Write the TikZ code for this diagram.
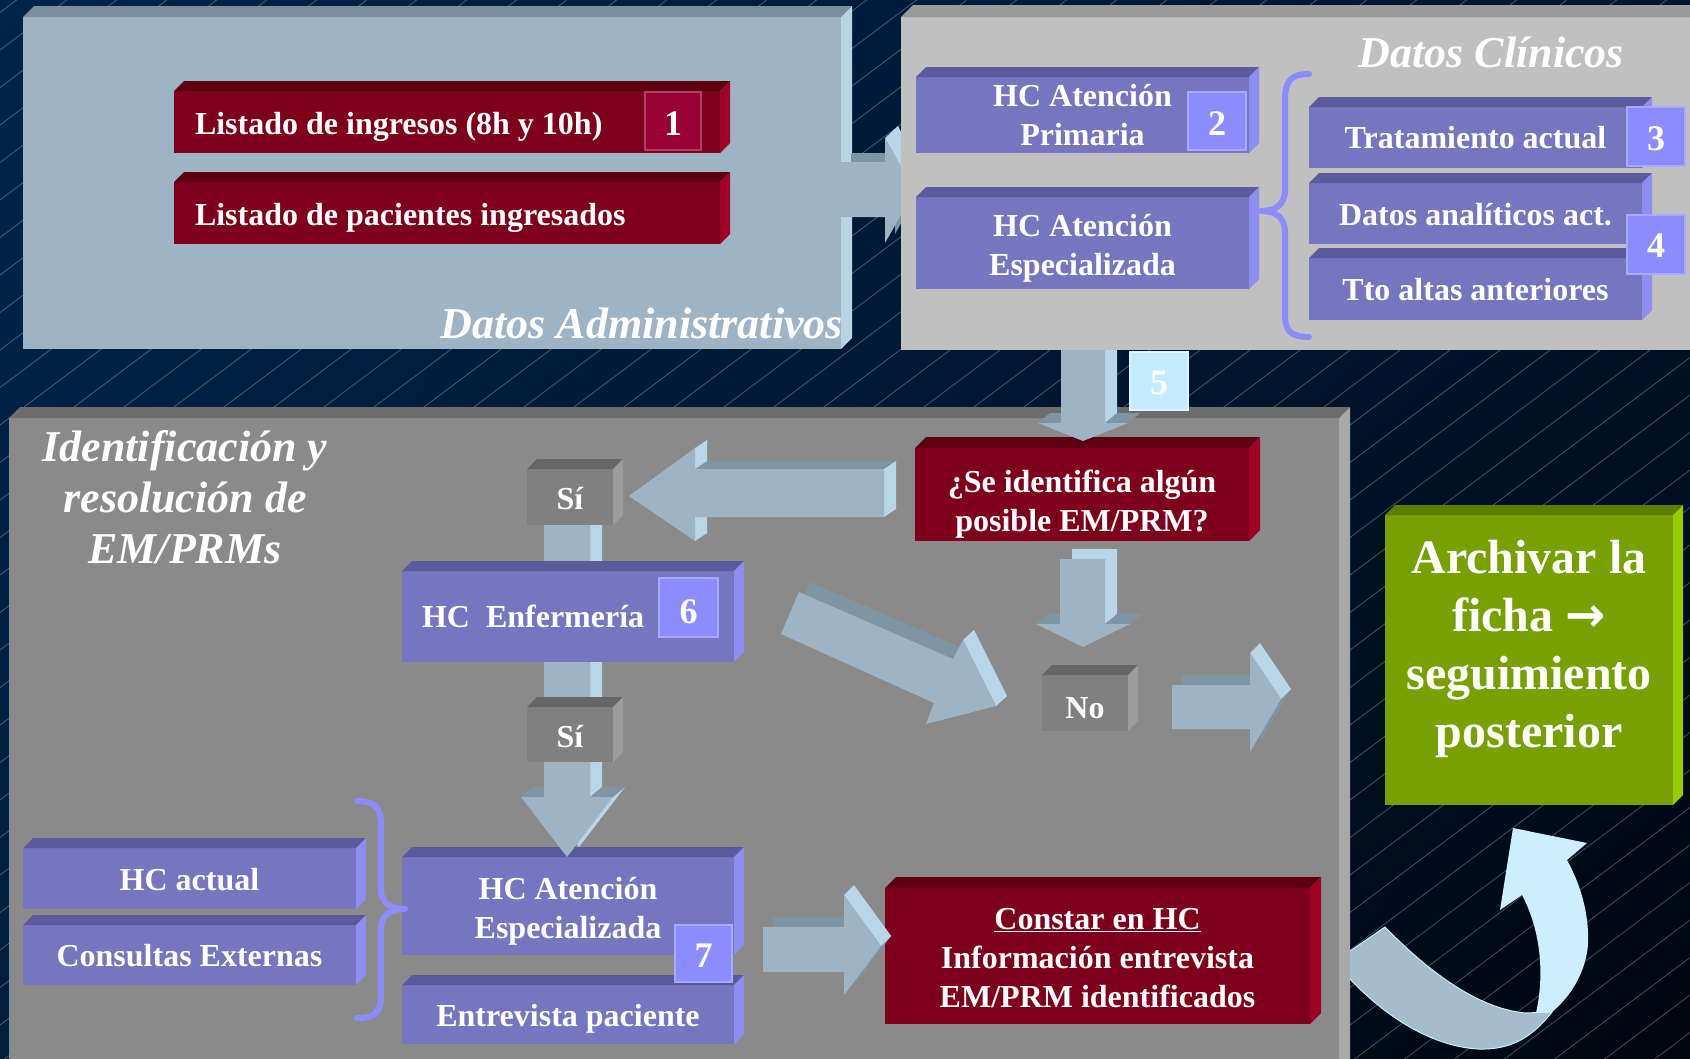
\documentclass[tikz,border=0pt]{standalone}
\usepackage{fontspec}
\setmainfont{Liberation Serif}
\newfontfamily\symfont{DejaVu Sans}
\usetikzlibrary{calc,shadings}
\definecolor{bgTL}{HTML}{00244A}
\definecolor{bgTR}{HTML}{001530}
\definecolor{bgBL}{HTML}{001F3D}
\definecolor{bgBR}{HTML}{00060F}
\definecolor{p1F}{HTML}{9EB4C5}
\definecolor{p1T}{HTML}{7B8E9C}
\definecolor{p1S}{HTML}{B8D3E3}
\definecolor{p2F}{HTML}{C0C0C0}
\definecolor{p2T}{HTML}{9A9A9A}
\definecolor{p2S}{HTML}{D6D6D6}
\definecolor{p3F}{HTML}{8A8A8A}
\definecolor{p3T}{HTML}{6D6D6D}
\definecolor{p3S}{HTML}{A8A8A8}
\definecolor{redF}{HTML}{7F001C}
\definecolor{redT}{HTML}{5C0012}
\definecolor{redS}{HTML}{9E0026}
\definecolor{numR}{HTML}{990033}
\definecolor{numRb}{HTML}{B0406A}
\definecolor{purF}{HTML}{7575C0}
\definecolor{purT}{HTML}{5A5A9C}
\definecolor{purS}{HTML}{8E8EF2}
\definecolor{numP}{HTML}{8C8CFF}
\definecolor{numPb}{HTML}{A9A9FF}
\definecolor{grayF}{HTML}{808080}
\definecolor{grayT}{HTML}{666666}
\definecolor{grayS}{HTML}{9C9C9C}
\definecolor{grnF}{HTML}{78A000}
\definecolor{grnT}{HTML}{5D7D00}
\definecolor{grnS}{HTML}{99CC00}
\definecolor{arrF}{HTML}{9EB4C5}
\definecolor{arrD}{HTML}{7E95A4}
\definecolor{arrL}{HTML}{B8D6E8}
\definecolor{n5F}{HTML}{C4EAFF}
\definecolor{n5b}{HTML}{E2F4FF}
\definecolor{braceC}{HTML}{8C8CFF}
\definecolor{curD}{HTML}{A4BCCB}
\definecolor{curL}{HTML}{CDEEFF}
\newcommand\boxfont{\fontsize{32}{39}\selectfont\bfseries}
\newcommand\numfont{\fontsize{36}{40}\selectfont\bfseries}
\newcommand\titlefont{\fontsize{44}{51}\selectfont\bfseries\itshape}
\newcommand\bigfont{\fontsize{48}{58}\selectfont\bfseries}
\newcommand\extrude[4]{%
  \fill[#3] (#1.north west) -- ++(#2,-#2) -- ($(#1.north east)+(#2,-#2)$) -- (#1.north east) -- cycle;
  \fill[#4] (#1.north east) -- ++(#2,-#2) -- ($(#1.south east)+(#2,-#2)$) -- (#1.south east) -- cycle;
}
\tikzset{
  face/.style={inner sep=0pt, outer sep=0pt, anchor=north west, text=white, align=center, font=\boxfont},
  redf/.style={face, fill=redF},
  purf/.style={face, fill=purF},
  grayf/.style={face, fill=grayF},
  th/.style={text height=#1, text depth=0pt},
  numbox/.style={inner sep=0pt, outer sep=0pt, anchor=north west, text=white, font=\numfont, line width=2pt},
  numred/.style={numbox, fill=numR, draw=numRb},
  numpur/.style={numbox, fill=numP, draw=numPb},
  title/.style={text=white, font=\titlefont, inner sep=0pt, outer sep=0pt},
  brace/.style={draw=braceC, line width=6pt, line cap=round, line join=round},
  hatch/.style={draw=white, draw opacity=0.28, line width=0.8pt},
}
\begin{document}
\begin{tikzpicture}[x=1pt,y=-1pt]
\useasboundingbox (0,0) rectangle (1690,1058);
\shade[upper left=bgTL, upper right=bgTR, lower left=bgBL, lower right=bgBR] (0,0) rectangle (1690,1058);
\begin{scope}
\clip (0,0) rectangle (1690,1058);
\foreach \c in {12.5,50,...,2500} \draw[hatch] (0,\c) -- ++(1690,-1267.5);
\end{scope}

% curved arrow (behind panel 3)
\fill[curD, draw=curL, line width=1pt] (1385,927) .. controls (1425,968) and (1475,1008) .. (1525,1013) -- (1552,1012) .. controls (1530,1040) and (1508,1050) .. (1478,1049) .. controls (1428,1046) and (1378,1012) .. (1340,968) -- (1340,958) -- cycle;
\fill[curL] (1536,1013) -- (1552,1012) .. controls (1576,992) and (1590,962) .. (1588,933) .. controls (1587,905) and (1578,880) .. (1567,860) -- (1587,843) -- (1513,828) -- (1500,910) -- (1522,895) .. controls (1538,925) and (1546,968) .. (1536,1013) -- cycle;

% ---------- panel 3
\node[face, fill=p3F, minimum width=1330, minimum height=652] (p3) at (9,418) {};
\extrude{p3}{11}{p3T}{p3S}
\node[title, align=center] (t3) at (185,497) {Identificación y\\resolución de\\EM/PRMs};

\node[redf, th=73pt, minimum width=334, minimum height=93] (q) at (915,448) {¿Se identifica algún\\posible EM/PRM?};
\extrude{q}{11}{redT}{redS}

\node[redf, th=103pt, minimum width=425, minimum height=136] (c) at (885,888) {\underline{Constar en HC}\\Información entrevista\\EM/PRM identificados};
\extrude{c}{11}{redT}{redS}

\node[purf, th=23pt, minimum width=333, minimum height=61] (hca) at (23,848) {HC actual};
\extrude{hca}{10}{purT}{purS}
\node[purf, th=23pt, minimum width=333, minimum height=60] (ce) at (23,925) {Consultas Externas};
\extrude{ce}{10}{purT}{purS}

\node[purf, th=64pt, minimum width=332, minimum height=98] (ae) at (402,857) {HC Atención\\Especializada};
\extrude{ae}{10}{purT}{purS}
\node[purf, th=24pt, minimum width=332, minimum height=59] (ep) at (402,985) {Entrevista paciente};
\extrude{ep}{10}{purT}{purS}
\node[numpur, th=27pt, minimum width=57, minimum height=57] (n7) at (675,925) {7};

% vertical chain arrow Si -> Enfermeria -> Si -> AE
\fill[arrL, shift={(12,-10)}] (544,520) -- (590,520) -- (590,797) -- (613,797) -- (567,857) -- (521,797) -- (544,797) -- cycle;
\fill[arrD] (521,797) -- (533,787) -- (556,787) -- (544,797) -- cycle;
\fill[arrD] (590,797) -- (602,787) -- (625,787) -- (613,797) -- cycle;
\fill[arrF] (544,520) -- (590,520) -- (590,797) -- (613,797) -- (567,857) -- (521,797) -- (544,797) -- cycle;

\node[grayf, th=25pt, minimum width=86, minimum height=56] (s1) at (527,469) {Sí};
\extrude{s1}{10}{grayT}{grayS}
\node[purf, th=21pt, align=flush left, text width=292, inner xsep=20pt, minimum height=91] (enf) at (402,571) {HC~~Enfermería};
\extrude{enf}{10}{purT}{purS}
\node[numpur, th=31pt, minimum width=59, minimum height=59] (n6) at (659,578) {6};
\node[grayf, th=26pt, minimum width=86, minimum height=55] (s2) at (527,707) {Sí};
\extrude{s2}{10}{grayT}{grayS}

% left arrow (question -> Si)
\fill[arrD, shift={(12,-8)}] (629,496) -- (695,448) -- (695,469) -- (884,469) -- (884,517) -- (695,517) -- (695,541) -- cycle;
\fill[arrL] (695,448) -- (707,440) -- (707,461) -- (695,469) -- cycle;
\fill[arrL] (695,517) -- (707,509) -- (707,533) -- (695,541) -- cycle;
\fill[arrL] (884,469) -- (896,461) -- (896,509) -- (884,517) -- cycle;
\fill[arrF] (629,496) -- (695,448) -- (695,469) -- (884,469) -- (884,517) -- (695,517) -- (695,541) -- cycle;

% diagonal arrow (Enfermeria -> No)
\fill[arrD, shift={(11,-10)}] (799,592) -- (953,659) -- (963,640) -- (996,706) -- (926,724) -- (934,703) -- (781,634) -- cycle;
\fill[arrL] (963,640) -- (974,630) -- (1007,696) -- (996,706) -- cycle;
\fill[arrF] (799,592) -- (953,659) -- (963,640) -- (996,706) -- (926,724) -- (934,703) -- (781,634) -- cycle;

% down arrow (question -> No)
\fill[arrL, shift={(12,-10)}] (1060,559) -- (1105,559) -- (1105,624) -- (1130,624) -- (1083,647) -- (1036,624) -- (1060,624) -- cycle;
\fill[arrD] (1036,624) -- (1048,614) -- (1072,614) -- (1060,624) -- cycle;
\fill[arrD] (1105,624) -- (1117,614) -- (1142,614) -- (1130,624) -- cycle;
\fill[arrF] (1060,559) -- (1105,559) -- (1105,624) -- (1130,624) -- (1083,647) -- (1036,624) -- (1060,624) -- cycle;

\node[grayf, th=31pt, minimum width=86, minimum height=56] (no) at (1042,675) {No};
\extrude{no}{10}{grayT}{grayS}

% right arrow (No -> Archivar)
\fill[arrD, shift={(10,-10)}] (1172,685) -- (1250,685) -- (1250,653) -- (1281,699) -- (1250,752) -- (1250,729) -- (1172,729) -- cycle;
\fill[arrL] (1250,653) -- (1260,643) -- (1291,689) -- (1281,699) -- cycle;
\fill[arrF] (1172,685) -- (1250,685) -- (1250,653) -- (1281,699) -- (1250,752) -- (1250,729) -- (1172,729) -- cycle;

% arrow (AE -> Constar)
\fill[arrD, shift={(10,-10)}] (763,927) -- (844,927) -- (844,895) -- (881,946) -- (844,995) -- (844,972) -- (763,972) -- cycle;
\fill[arrL] (844,895) -- (854,885) -- (891,936) -- (881,946) -- cycle;
\fill[arrF] (763,927) -- (844,927) -- (844,895) -- (881,946) -- (844,995) -- (844,972) -- (763,972) -- cycle;

% brace in panel 3
\draw[brace] (357,801) .. controls (376,801) and (381,809) .. (381,825) -- (381,890) .. controls (381,903) and (391,909) .. (405,909) .. controls (391,909) and (381,915) .. (381,928) -- (381,996) .. controls (381,1012) and (376,1018) .. (357,1018);

% ---------- green box
\node[face, fill=grnF, font=\bigfont, th=175pt, minimum width=288, minimum height=290] (ar) at (1385,515) {Archivar la\\ficha {\symfont\bfseries →}\\seguimiento\\posterior};
\extrude{ar}{10}{grnT}{grnS}

% arrow 5 (Datos clinicos -> question)
\fill[arrL, shift={(12,-10)}] (1061,350) -- (1105,350) -- (1105,423) -- (1128,423) -- (1083,441) -- (1038,423) -- (1061,423) -- cycle;
\fill[arrD] (1038,423) -- (1050,413) -- (1073,413) -- (1061,423) -- cycle;
\fill[arrD] (1105,423) -- (1117,413) -- (1140,413) -- (1128,423) -- cycle;
\fill[arrF] (1061,350) -- (1105,350) -- (1105,423) -- (1128,423) -- (1083,441) -- (1038,423) -- (1061,423) -- cycle;

% ---------- panel 1
\node[face, fill=p1F, minimum width=818, minimum height=332] (p1) at (23,17) {};
\extrude{p1}{11}{p1T}{p1S}
\node[redf, th=24pt, align=flush left, text width=504, inner xsep=21pt, minimum height=62] (l1) at (174,91) {Listado de ingresos (8h y 10h)};
\extrude{l1}{10}{redT}{redS}
\node[numred, th=28pt, minimum width=56, minimum height=58] (n1) at (645,92) {1};
\node[redf, th=25pt, align=flush left, text width=504, inner xsep=21pt, minimum height=62] (l2) at (174,182) {Listado de pacientes ingresados};
\extrude{l2}{10}{redT}{redS}
\node[title, anchor=base east] (t1) at (843,338) {Datos Administrativos};

% arrow panel1 -> panel2
\fill[arrD, shift={(10,-9)}] (841,162) -- (885,162) -- (885,138) -- (915,190) -- (885,243) -- (885,217) -- (841,217) -- cycle;
\fill[arrF] (841,162) -- (885,162) -- (885,138) -- (915,190) -- (885,243) -- (885,217) -- (841,217) -- cycle;
\fill[arrL] (885,138) -- (898,126) -- (925,178) -- (915,190) -- cycle;

% ---------- panel 2
\node[face, fill=p2F, minimum width=800, minimum height=333] (p2) at (901,17) {};
\extrude{p2}{12}{p2T}{p2S}
\node[title, anchor=base east] (t2) at (1624,67) {Datos Clínicos};

\node[purf, th=61pt, minimum width=333, minimum height=76] (hp) at (916,77) {HC Atención\\Primaria};
\extrude{hp}{10}{purT}{purS}
\node[numpur, th=28pt, minimum width=58, minimum height=58] (n2) at (1188,92) {2};
\node[purf, th=64pt, minimum width=333, minimum height=92] (he) at (916,197) {HC Atención\\Especializada};
\extrude{he}{10}{purT}{purS}

\node[purf, th=22pt, minimum width=333, minimum height=61] (tr1) at (1309,107) {Tratamiento actual};
\extrude{tr1}{10}{purT}{purS}
\node[numpur, th=27pt, minimum width=58, minimum height=59] (n3) at (1627,107) {3};
\node[purf, th=24pt, minimum width=333, minimum height=61] (tr2) at (1309,183) {Datos analíticos act.};
\extrude{tr2}{10}{purT}{purS}
\node[purf, th=23pt, minimum width=333, minimum height=62] (tr3) at (1309,258) {Tto altas anteriores};
\extrude{tr3}{10}{purT}{purS}
\node[numpur, th=26pt, minimum width=58, minimum height=59] (n4) at (1627,215) {4};

\draw[brace] (1309,74) .. controls (1290,74) and (1285,82) .. (1285,100) -- (1285,190) .. controls (1285,205) and (1275,211) .. (1261,211) .. controls (1275,211) and (1285,217) .. (1285,232) -- (1285,315) .. controls (1285,330) and (1290,337) .. (1309,337);

% number 5
\node[numbox, th=27pt, fill=n5F, draw=n5b, minimum width=58, minimum height=58] (n5) at (1130,352) {5};
\end{tikzpicture}
\end{document}
